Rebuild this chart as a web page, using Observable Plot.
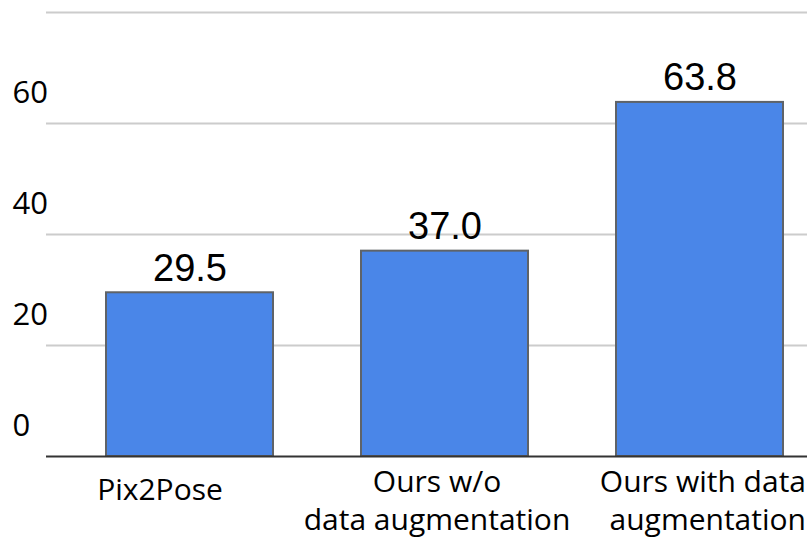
<!DOCTYPE html>
<html>
<head>
<meta charset="utf-8">
<script src="https://cdn.jsdelivr.net/npm/d3@7"></script>
<script src="https://cdn.jsdelivr.net/npm/@observablehq/plot@0.6"></script>
<style>
  html, body { margin: 0; padding: 0; background: #fff; }
  #chart svg { display: block; }
</style>
</head>
<body>
<div id="chart"></div>
<script>
const categories = ["Pix2Pose", "Ours w/o\ndata augmentation", "Ours with data\naugmentation"];
const values = [29.5, 37.0, 63.8];
const valueLabels = ["29.5", "37.0", "63.8"];
const yTickLabels = [0, 20, 40, 60];
const gridValues = [20, 40, 60, 80];

const data = categories.map((c, i) => ({category: c, value: values[i], label: valueLabels[i]}));

const labelFont = "'Open Sans', 'Noto Sans', sans-serif";
const valueFont = "'Liberation Sans', Arial, sans-serif";

const chart = Plot.plot({
  width: 807,
  height: 541,
  marginTop: 12,
  marginBottom: 85,
  marginLeft: 46,
  marginRight: 0,
  style: {background: "#fff", overflow: "visible"},
  x: {type: "band", domain: categories, range: [82, 807], paddingInner: 0.344, paddingOuter: 0.09, axis: null},
  y: {domain: [0, 80], axis: null},
  marks: [
    Plot.ruleY(gridValues, {stroke: "#cccccc", strokeWidth: 2}),
    Plot.text(yTickLabels, {y: d => d, text: d => String(d), frameAnchor: "left", dx: -34, dy: -30,
      textAnchor: "start", fontSize: 31, fontFamily: labelFont, fill: "#000"}),
    Plot.barY(data, {x: "category", y: "value", fill: "#4a86e8", stroke: "#5f6368", strokeWidth: 2}),
    Plot.ruleY([0], {stroke: "#333333", strokeWidth: 2}),
    Plot.text(data, {x: "category", y: "value", text: "label", lineAnchor: "bottom", dy: -12,
      fontSize: 38, fontFamily: valueFont, fill: "#000"}),
    Plot.text(data.filter(d => d.category === categories[0]), {x: "category", text: "category", frameAnchor: "bottom",
      lineAnchor: "top", dy: 17, dx: -30, fontSize: 30, fontFamily: labelFont, fill: "#000", lineHeight: 1.25}),
    Plot.text(data.filter(d => d.category === categories[1]), {x: "category", text: "category", frameAnchor: "bottom",
      lineAnchor: "top", dy: 9, dx: -8, fontSize: 30, fontFamily: labelFont, fill: "#000", lineHeight: 1.25}),
    Plot.text(data.filter(d => d.category === categories[2]), {x: "category", text: "category", frameAnchor: "bottom",
      lineAnchor: "top", dy: 9, dx: 106, textAnchor: "end", fontSize: 30, fontFamily: labelFont, fill: "#000", lineHeight: 1.25})
  ]
});
document.getElementById("chart").appendChild(chart);
</script>
</body>
</html>
